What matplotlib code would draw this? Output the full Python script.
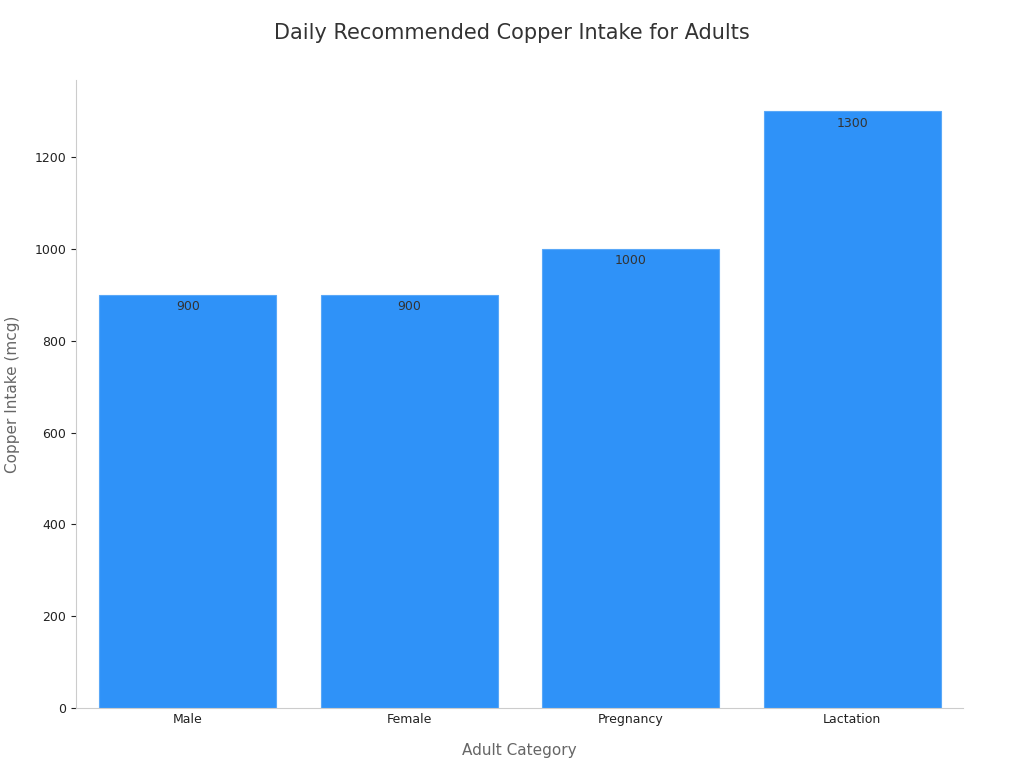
import matplotlib
matplotlib.use("Agg")
import matplotlib.pyplot as plt

categories = ["Male", "Female", "Pregnancy", "Lactation"]
values = [900, 900, 1000, 1300]

fig = plt.figure(figsize=(10.24, 7.68), dpi=100)
ax = fig.add_axes([0.0742, 0.078, 0.8662, 0.818])
bars = ax.bar(range(len(categories)), values, width=0.8, color="#2f92f8", edgecolor="#5aa8f8", linewidth=0.8)
for i, v in enumerate(values):
    ax.text(i, v - 12, str(v), ha="center", va="top", fontsize=9, color="#333333")
ax.set_xticks(range(len(categories)))
ax.set_xticklabels(categories, fontsize=9, color="#222222")
ax.set_xlim(-0.505, 3.5)
ax.set_ylim(0, 1368)
ax.set_yticks([0, 200, 400, 600, 800, 1000, 1200])
ax.tick_params(axis="y", labelsize=9, colors="#222222")
ax.tick_params(axis="x", length=0)
for s in ["top", "right"]:
    ax.spines[s].set_visible(False)
for s in ["left", "bottom"]:
    ax.spines[s].set_color("#cccccc")
ax.set_xlabel("Adult Category", fontsize=11, color="#666666", labelpad=12)
ax.set_ylabel("Copper Intake (mcg)", fontsize=11, color="#666666", labelpad=10)
fig.suptitle("Daily Recommended Copper Intake for Adults", fontsize=15, color="#333333", y=0.97)
fig.savefig("out.png", dpi=100)
